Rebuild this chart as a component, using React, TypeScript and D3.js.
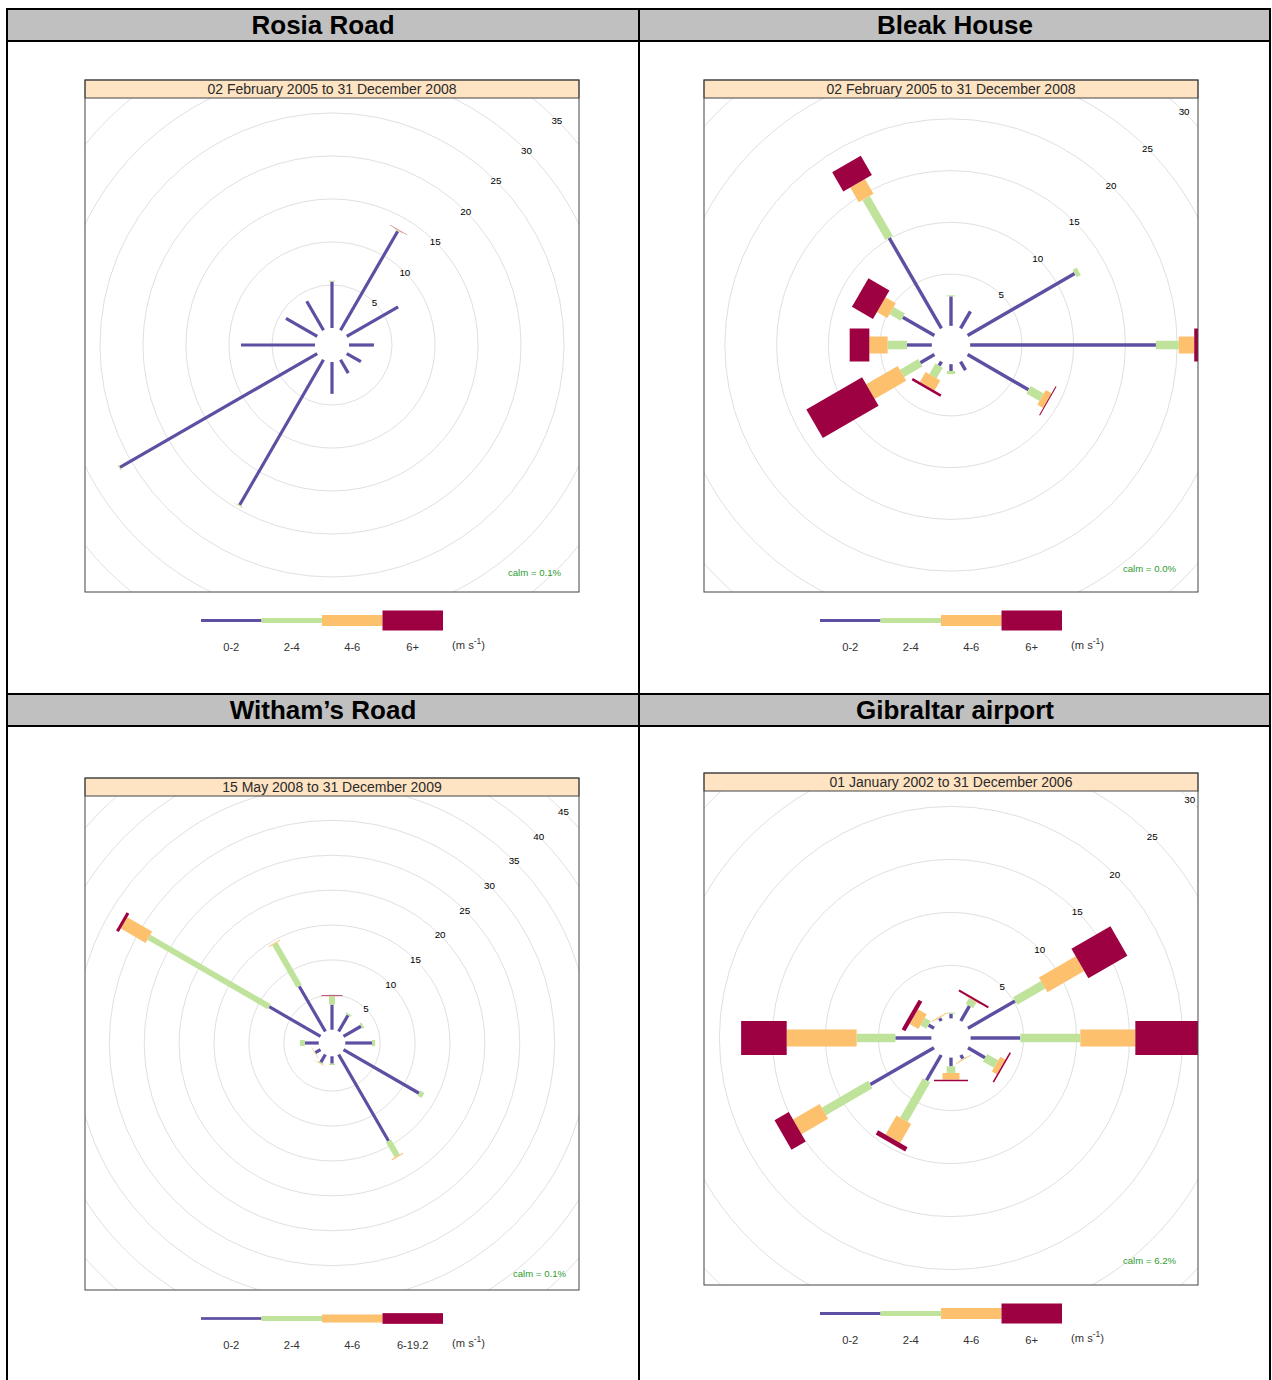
import React from "react";
import * as d3 from "d3";

// ---------- data ----------
const directions = [0, 30, 60, 90, 120, 150, 180, 210, 240, 270, 300, 330];
const speedBins = ["0-2", "2-4", "4-6", "6+"];
const speedBinsWitham = ["0-2", "2-4", "4-6", "6-19.2"];
const bandColours = ["#5E4FA2", "#BFE39B", "#FDC06D", "#9E0142"];

// Rosia Road (% frequency by direction, per speed band)
const rosia02 = [5.4, 13.3, 6.9, 2.9, 1.9, 1.8, 3.7, 19.5, 26.5, 8.6, 4.2, 3.9];
const rosia24 = [0.1, 0.1, 0, 0, 0, 0, 0, 0.1, 0.1, 0, 0, 0];
const rosia46 = [0, 0.05, 0, 0, 0, 0, 0, 0.05, 0, 0, 0, 0];
const rosia6p = [0, 0.04, 0, 0, 0, 0, 0, 0, 0, 0, 0, 0];

// Bleak House
const bleak02 = [2.85, 1.9, 11.95, 17.95, 6.8, 0.95, 0.66, 0.45, 1.57, 2.4, 3.53, 10.1];
const bleak24 = [0.1, 0, 0.45, 2.2, 1.45, 0, 0.3, 1.2, 2.05, 1.87, 1.25, 4.45];
const bleak46 = [0, 0, 0, 1.5, 0.65, 0, 0, 1.1, 3.53, 1.77, 1.16, 1.65];
const bleak6p = [0, 0, 0, 1.0, 0.1, 0, 0, 0.25, 6.22, 1.9, 2.34, 2.15];

// Witham's Road
const witham02 = [3.6, 2.7, 2.9, 3.83, 12.5, 14.3, 1.06, 1.3, 0.85, 2.0, 8.5, 7.5];
const witham24 = [1.2, 0.25, 0.3, 0.45, 0.65, 2.5, 0.2, 0.2, 0.05, 0.7, 19.9, 7.0];
const witham46 = [0.02, 0, 0, 0, 0, 0.15, 0, 0.05, 0.08, 0, 4.1, 0.15];
const witham6p = [0.1, 0, 0, 0, 0, 0, 0, 0, 0, 0, 0.45, 0];

// Gibraltar airport
const gib02 = [0.45, 1.64, 5.13, 4.69, 1.86, 0.4, 0.82, 2.77, 6.94, 3.4, 0.6, 0.3];
const gib24 = [0.1, 0.63, 3.06, 5.66, 1.2, 0.05, 0.63, 4.28, 5.06, 3.65, 0.65, 0.05];
const gib46 = [0, 0.05, 4.0, 5.19, 0.55, 0.08, 0.63, 2.08, 2.9, 6.6, 0.95, 0.1];
const gib6p = [0, 0.2, 4.25, 6.5, 0.15, 0, 0.15, 0.45, 1.55, 4.3, 0.4, 0];

const rosiaTicks = [5, 10, 15, 20, 25, 30, 35];
const bleakTicks = [5, 10, 15, 20, 25, 30];
const withamTicks = [5, 10, 15, 20, 25, 30, 35, 40, 45];
const gibTicks = [5, 10, 15, 20, 25, 30];

const stationTitles = ["Rosia Road", "Bleak House", "Witham\u2019s Road", "Gibraltar airport"];
const periods = [
  "02 February 2005 to 31 December 2008",
  "02 February 2005 to 31 December 2008",
  "15 May 2008 to 31 December 2009",
  "01 January 2002 to 31 December 2006",
];
const calms = ["calm = 0.1%", "calm = 0.0%", "calm = 0.1%", "calm = 6.2%"];

// ---------- layout ----------
const FONT = "'Liberation Sans', Arial, Helvetica, sans-serif";
const panels = [
  { title: stationTitles[0], period: periods[0], calm: calms[0], bins: speedBins, ticks: rosiaTicks,
    bands: [rosia02, rosia24, rosia46, rosia6p], bx: 85, by: 80, k: 8.6, off: 1.98,
    widths: [3.2, 6, 11, 20], legendH: [3, 5, 11, 20], calmDx: 229, calmDy: 231 },
  { title: stationTitles[1], period: periods[1], calm: calms[1], bins: speedBins, ticks: bleakTicks,
    bands: [bleak02, bleak24, bleak46, bleak6p], bx: 704, by: 80, k: 10.35, off: 1.85,
    widths: [3.4, 8.5, 17, 33], legendH: [3, 5, 11, 20], calmDx: 225, calmDy: 227 },
  { title: stationTitles[2], period: periods[2], calm: calms[2], bins: speedBinsWitham, ticks: withamTicks,
    bands: [witham02, witham24, witham46, witham6p], bx: 85, by: 778, k: 6.98, off: 1.9,
    widths: [3.2, 6, 13, 21], legendH: [2.7, 5, 8, 10.7], calmDx: 234, calmDy: 234 },
  { title: stationTitles[3], period: periods[3], calm: calms[3], bins: speedBins, ticks: gibTicks,
    bands: [gib02, gib24, gib46, gib6p], bx: 704, by: 773, k: 10.6, off: 1.85,
    widths: [3.4, 8.7, 17, 34], legendH: [3, 5, 11, 20], calmDx: 225, calmDy: 226 },
];
const BOX_W = 494;
const BOX_H = 512;
const STRIP_H = 18;

function paddle(cx: number, cy: number, deg: number, r1: number, r2: number, hw: number) {
  const t = (deg * Math.PI) / 180;
  const ux = Math.sin(t), uy = -Math.cos(t);
  const px = Math.cos(t), py = Math.sin(t);
  const p = d3.path();
  p.moveTo(cx + ux * r1 - px * hw, cy + uy * r1 - py * hw);
  p.lineTo(cx + ux * r2 - px * hw, cy + uy * r2 - py * hw);
  p.lineTo(cx + ux * r2 + px * hw, cy + uy * r2 + py * hw);
  p.lineTo(cx + ux * r1 + px * hw, cy + uy * r1 + py * hw);
  p.closePath();
  return p.toString();
}

function Rose({ cfg, idx }: { cfg: any; idx: number }) {
  const { bx, by, k, off } = cfg;
  const areaTop = by + STRIP_H;
  const half = BOX_W / 2;
  const cx = bx + half;
  const cy = areaTop + (BOX_H - STRIP_H) / 2;
  const r = d3.scaleLinear().domain([0, 10]).range([off * k, (10 + off) * k]);
  const gridVals = d3.range(5, 60, 5);
  const clipId = `clip${idx}`;
  const cum: number[][] = directions.map((_, i) => {
    let s = 0;
    const out = [0];
    for (let j = 0; j < 4; j++) {
      s += cfg.bands[j][i];
      out.push(s);
    }
    return out;
  });
  const legY = by + BOX_H + 28.5;
  const legX = cx - 131;
  const segW = 60.5;
  return (
    <g>
      <defs>
        <clipPath id={clipId}>
          <rect x={bx} y={areaTop} width={BOX_W} height={BOX_H - STRIP_H} />
        </clipPath>
      </defs>
      <rect x={bx} y={by} width={BOX_W} height={BOX_H} fill="#fff" />
      <g clipPath={`url(#${clipId})`}>
        {gridVals.map((v) => (
          <circle key={v} cx={cx} cy={cy} r={r(v)} fill="none" stroke="#e0e0e0" strokeWidth={1} />
        ))}
        {directions.map((d, i) =>
          [0, 1, 2, 3].map((j) => {
            const a = cum[i][j], b = cum[i][j + 1];
            if (b - a <= 0) return null;
            return (
              <path key={`${d}-${j}`} d={paddle(cx, cy, d, r(a), r(b), cfg.widths[j] / 2)} fill={bandColours[j]} />
            );
          })
        )}
        {cfg.ticks.map((v: number) => {
          const rr = r(v);
          return (
            <text key={v} x={cx + rr * Math.SQRT1_2} y={cy - rr * Math.SQRT1_2 + 3.5} fontSize={9.8}
              textAnchor="middle" fill="#000" fontFamily={FONT}>{v}</text>
          );
        })}
        <text x={cx + cfg.calmDx} y={cy + cfg.calmDy} fontSize={9.6} textAnchor="end" fill="#2E9B2E" fontFamily={FONT}>
          {cfg.calm}
        </text>
      </g>
      <rect x={bx} y={by} width={BOX_W} height={STRIP_H} fill="#FFE4C4" stroke="#444" strokeWidth={1} />
      <text x={cx} y={by + 14.3} fontSize={14} textAnchor="middle" fill="#2a2a2a" fontFamily={FONT}>{cfg.period}</text>
      <rect x={bx} y={by} width={BOX_W} height={BOX_H} fill="none" stroke="#444" strokeWidth={1} />
      {/* legend */}
      {[0, 1, 2, 3].map((j) => (
        <rect key={j} x={legX + j * segW} y={legY - cfg.legendH[j] / 2} width={segW} height={cfg.legendH[j]}
          fill={bandColours[j]} />
      ))}
      {cfg.bins.map((b: string, j: number) => (
        <text key={b} x={legX + j * segW + segW / 2} y={legY + 30.5} fontSize={11.2} textAnchor="middle" fill="#333"
          fontFamily={FONT}>{b}</text>
      ))}
      <text x={legX + 251} y={legY + 28} fontSize={11.2} fill="#333" fontFamily={FONT}>
        (m s<tspan fontSize={8.5} dy={-5}>-1</tspan><tspan dy={5}>)</tspan>
      </text>
    </g>
  );
}

export default function App() {
  const W = 1272, H = 1380;
  return (
    <div style={{ position: "absolute", left: 0, top: 0 }}>
      <svg width={W} height={H} viewBox={`0 0 ${W} ${H}`} style={{ display: "block", background: "#fff" }}>
        <rect x={0} y={0} width={W} height={H} fill="#fff" />
        {/* title bands */}
        <rect x={7} y={9} width={1263} height={32} fill="#C0C0C0" />
        <rect x={7} y={694} width={1263} height={32} fill="#C0C0C0" />
        {[9, 41, 694, 726].map((y) => (
          <line key={y} x1={6} x2={1271} y1={y} y2={y} stroke="#000" strokeWidth={2} />
        ))}
        {[7, 639, 1270].map((x) => (
          <line key={x} x1={x} x2={x} y1={8} y2={H} stroke="#000" strokeWidth={2} />
        ))}
        {stationTitles.map((t, i) => (
          <text key={t} x={i % 2 === 0 ? 323 : 955} y={i < 2 ? 34 : 719} fontSize={26} fontWeight="bold"
            textAnchor="middle" fill="#000" fontFamily={FONT}>{t}</text>
        ))}
        {panels.map((p, i) => (
          <Rose key={i} cfg={p} idx={i} />
        ))}
      </svg>
    </div>
  );
}
